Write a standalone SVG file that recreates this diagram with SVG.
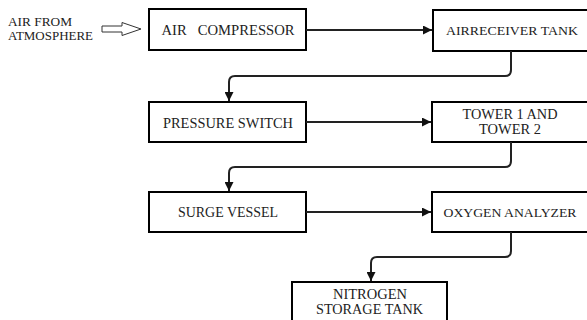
<svg xmlns="http://www.w3.org/2000/svg" width="587" height="320" viewBox="0 0 587 320">
<defs>
<style>
.box{fill:#fff;stroke:#000;stroke-width:2}
.t{font-family:'Liberation Serif','DejaVu Serif','Times New Roman',serif;font-size:15px;fill:#222;text-anchor:middle}
.r{font-size:13.5px}
.s{font-family:'Liberation Serif','DejaVu Serif','Times New Roman',serif;font-size:12.5px;fill:#222}
.c{fill:none;stroke:#222;stroke-width:2}
</style>
<marker id="ah" viewBox="0 0 10 10" refX="10" refY="5" markerWidth="4.5" markerHeight="4.5" orient="auto" markerUnits="strokeWidth">
<path d="M0,0 L10,5 L0,10 z" fill="#111"/>
</marker>
</defs>
<rect width="587" height="320" fill="#fff"/>
<g id="source">
<text class="s" x="8" y="26" textLength="64" lengthAdjust="spacingAndGlyphs">AIR FROM</text>
<text class="s" x="8" y="40" textLength="85" lengthAdjust="spacingAndGlyphs">ATMOSPHERE</text>
<path d="M102,26 H122 V22.5 L141,29 L122,35.5 V32 H102 Z" fill="#fff" stroke="#333" stroke-width="1"/>
</g>
<g id="n1"><rect class="box" x="149" y="9" width="157" height="41" stroke="#444" stroke-width="1.5"/>
<text class="t" x="228" y="35" textLength="133" lengthAdjust="spacingAndGlyphs" xml:space="preserve">AIR   COMPRESSOR</text></g>
<g id="n2"><rect class="box" x="433" y="10" width="155" height="41"/>
<text class="t r" x="512" y="35" textLength="132" lengthAdjust="spacingAndGlyphs">AIRRECEIVER TANK</text></g>
<g id="n3"><rect class="box" x="149" y="102" width="157" height="40"/>
<text class="t" x="228" y="127.5" textLength="130" lengthAdjust="spacingAndGlyphs">PRESSURE SWITCH</text></g>
<g id="n4"><rect class="box" x="432" y="102" width="156" height="40"/>
<text class="t" x="510" y="118.5" textLength="95" lengthAdjust="spacingAndGlyphs">TOWER 1 AND</text>
<text class="t" x="510" y="133.5" textLength="62" lengthAdjust="spacingAndGlyphs">TOWER 2</text></g>
<g id="n5"><rect class="box" x="149" y="192" width="157" height="40"/>
<text class="t" x="228" y="217" textLength="100" lengthAdjust="spacingAndGlyphs">SURGE VESSEL</text></g>
<g id="n6"><rect class="box" x="432" y="192" width="156" height="40"/>
<text class="t r" x="510" y="217" textLength="133" lengthAdjust="spacingAndGlyphs">OXYGEN ANALYZER</text></g>
<g id="n7"><rect class="box" x="292" y="282" width="155" height="45"/>
<text class="t" x="370" y="298.5" textLength="74" lengthAdjust="spacingAndGlyphs">NITROGEN</text>
<text class="t" x="369.5" y="313.5" textLength="107" lengthAdjust="spacingAndGlyphs">STORAGE TANK</text></g>
<g id="connectors">
<path class="c" d="M306,30 H432" marker-end="url(#ah)"/>
<path class="c" d="M511,51 V70 Q511,76 505,76 H235 Q229,76 229,82 V101" marker-end="url(#ah)"/>
<path class="c" d="M306,122 H431" marker-end="url(#ah)"/>
<path class="c" d="M511,142 V161 Q511,167 505,167 H235 Q229,167 229,173 V191" marker-end="url(#ah)"/>
<path class="c" d="M306,212 H431" marker-end="url(#ah)"/>
<path class="c" d="M511,232 V251 Q511,257 505,257 H377 Q371,257 371,263 V281" marker-end="url(#ah)"/>
</g>
</svg>
